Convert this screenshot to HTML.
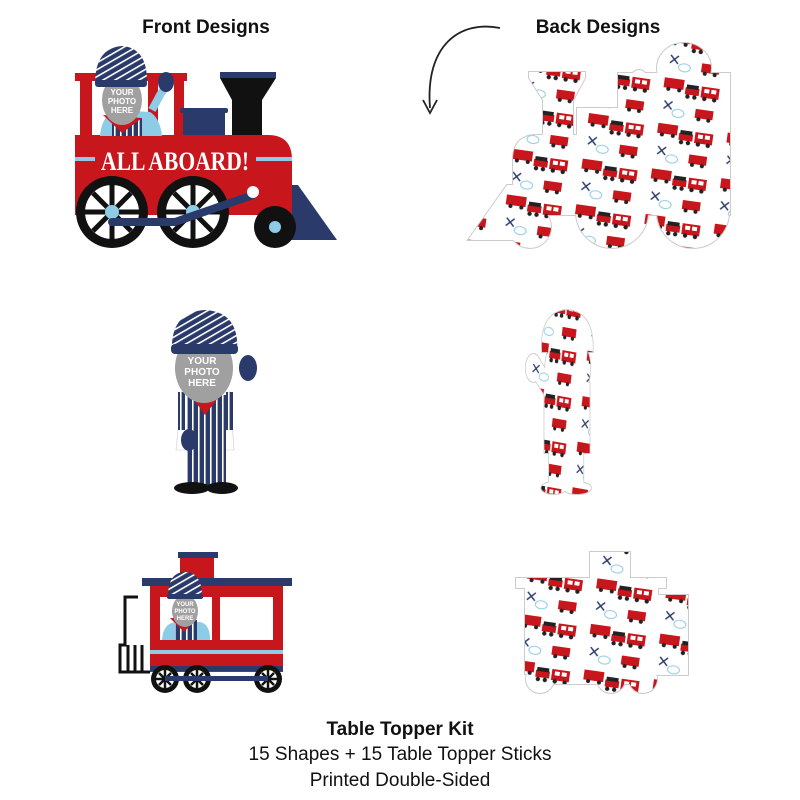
<!DOCTYPE html>
<html><head><meta charset="utf-8"><style>
html,body{margin:0;padding:0;background:#fff;width:800px;height:800px;overflow:hidden}
svg{display:block}
text{font-family:"Liberation Sans",sans-serif}
</style></head><body>
<svg width="800" height="800" viewBox="0 0 800 800" xmlns="http://www.w3.org/2000/svg">
<defs>
<pattern id="tp" width="70" height="46" patternUnits="userSpaceOnUse" patternTransform="rotate(-8)">
<rect width="70" height="46" fill="#fff"/>
<rect x="2" y="8" width="18" height="11" fill="#c8161d"/>
<rect x="5" y="10" width="5" height="4" fill="#fff"/>
<rect x="12" y="10" width="5" height="4" fill="#fff"/>
<rect x="22" y="11" width="14" height="7" fill="#c8161d"/>
<rect x="23" y="8" width="12" height="4" fill="#222"/>
<circle cx="6" cy="20" r="2.2" fill="#222"/><circle cx="16" cy="20" r="2.2" fill="#222"/>
<circle cx="26" cy="20" r="2.2" fill="#222"/><circle cx="33" cy="20" r="2.2" fill="#222"/>
<path d="M47 27l8 8M55 27l-8 8" stroke="#2a3a6a" stroke-width="1.5"/>
<ellipse cx="40" cy="38" rx="6" ry="4" fill="none" stroke="#8ecbe6" stroke-width="1"/>
<rect x="38" y="4" width="20" height="10" fill="#c8161d"/>
<circle cx="42" cy="15" r="2" fill="#222"/><circle cx="53" cy="15" r="2" fill="#222"/>
<rect x="5" y="31" width="18" height="9" fill="#c8161d"/>
<circle cx="9" cy="41" r="2" fill="#222"/><circle cx="19" cy="41" r="2" fill="#222"/>
</pattern>
<pattern id="stripe" width="6" height="6" patternUnits="userSpaceOnUse">
<rect width="6" height="6" fill="#2a3a6a"/><rect x="0" width="1.6" height="6" fill="#fff"/>
</pattern>
<pattern id="hatp" width="6" height="6" patternUnits="userSpaceOnUse" patternTransform="rotate(-30)">
<rect width="6" height="6" fill="#2a3a6a"/><rect width="6" height="1.6" fill="#fff"/>
</pattern>
<g id="locoS">
<rect x="75" y="73" width="112" height="64"/>
<ellipse cx="121" cy="68" rx="27" ry="25"/>
<ellipse cx="166" cy="84" rx="10" ry="14"/>
<polygon points="220,72 276,72 276,78 262,100 262,136 232,136 232,100 220,78"/>
<rect x="180" y="108" width="48" height="30"/>
<path d="M75 135 H268 Q292 135 292 160 V215 H75 Z"/>
<polygon points="288,185 298,185 337,240 288,240"/>
<circle cx="112" cy="212" r="36"/><circle cx="193" cy="212" r="36"/><circle cx="275" cy="227" r="21"/>
</g>
<g id="personS">
<path d="M172 352 Q170 312 205 310 Q240 312 237 352 Z"/>
<ellipse cx="204" cy="368" rx="29" ry="35"/>
<rect x="176" y="383" width="58" height="70"/>
<rect x="184" y="440" width="44" height="45"/>
<ellipse cx="192" cy="488" rx="18" ry="6"/><ellipse cx="222" cy="488" rx="16" ry="6"/>
<polygon points="216,390 240,360 252,372 230,400"/>
<ellipse cx="248" cy="368" rx="10" ry="14"/>
</g>
<g id="cabS">
<rect x="178" y="552" width="40" height="30"/>
<rect x="142" y="578" width="150" height="10"/>
<rect x="120" y="595" width="32" height="80"/>
<rect x="150" y="586" width="133" height="88"/>
<circle cx="165" cy="679" r="14"/><circle cx="197" cy="679" r="14"/><circle cx="268" cy="679" r="14"/>
<rect x="165" y="672" width="103" height="12"/>
</g>
</defs>

<text x="206" y="33" font-size="19" font-weight="bold" text-anchor="middle" fill="#111">Front Designs</text>
<text x="598" y="33" font-size="19" font-weight="bold" text-anchor="middle" fill="#111">Back Designs</text>
<path d="M500 28 C460 20 425 45 430 108" fill="none" stroke="#222" stroke-width="1.8"/>
<path d="M423 100 L430 113 L437 100" fill="none" stroke="#222" stroke-width="1.8"/>

<!-- FRONT LOCOMOTIVE -->
<g>
<polygon points="288,185 298,185 337,240 288,240" fill="#2a3a6a"/>
<rect x="75" y="73" width="112" height="8" fill="#c8161d"/>
<rect x="80" y="81" width="12" height="55" fill="#c8161d"/>
<rect x="148" y="81" width="10" height="55" fill="#c8161d"/>
<rect x="174" y="81" width="10" height="55" fill="#c8161d"/>
<rect x="220" y="72" width="56" height="6" fill="#2a3a6a"/>
<polygon points="220,78 276,78 262,100 262,136 232,136 232,100" fill="#111"/>
<rect x="183" y="108" width="42" height="28" fill="#2a3a6a"/>
<rect x="180" y="108" width="48" height="5" rx="2" fill="#2a3a6a"/>
<path d="M75 135 H268 Q292 135 292 160 V215 H75 Z" fill="#c8161d"/>
<rect x="75" y="157" width="20" height="4" fill="#8ecbe6"/>
<rect x="256" y="157" width="36" height="4" fill="#8ecbe6"/>
<text x="175" y="170" style="font-family:'Liberation Serif',serif;font-weight:bold" font-size="26" fill="#fff" text-anchor="middle" textLength="148" lengthAdjust="spacingAndGlyphs">ALL ABOARD!</text>
<path d="M100 136 Q102 112 120 110 L150 112 Q160 118 162 136 Z" fill="#8ecbe6"/>
<rect x="112" y="118" width="30" height="18" fill="url(#stripe)"/>
<polygon points="103,115 142,118 122,133" fill="#c8161d"/>
<path d="M152 110 L160 95 L166 86" stroke="#8ecbe6" stroke-width="8" fill="none"/>
<ellipse cx="166" cy="82" rx="8" ry="10" fill="#2a3a6a"/>
<ellipse cx="122" cy="100" rx="20" ry="25" fill="#a0a0a0"/>
<text x="122" y="95" font-size="8" fill="#fff" text-anchor="middle" font-weight="bold">YOUR</text>
<text x="122" y="104" font-size="8" fill="#fff" text-anchor="middle" font-weight="bold">PHOTO</text>
<text x="122" y="113" font-size="8" fill="#fff" text-anchor="middle" font-weight="bold">HERE</text>
<path d="M95 84 Q95 48 122 46 Q148 48 147 84 Z" fill="url(#hatp)"/>
<rect x="95" y="80" width="52" height="7" rx="3" fill="#2a3a6a"/>
<g id="bw"><circle cx="112" cy="212" r="36" fill="#111"/><circle cx="112" cy="212" r="27" fill="#fff"/>
<g stroke="#111" stroke-width="5"><line x1="112" y1="185" x2="112" y2="239"/><line x1="85" y1="212" x2="139" y2="212"/><line x1="93" y1="193" x2="131" y2="231"/><line x1="131" y1="193" x2="93" y2="231"/></g>
<circle cx="112" cy="212" r="7" fill="#8ecbe6"/></g>
<use href="#bw" x="81" y="0"/>
<circle cx="275" cy="227" r="21" fill="#111"/><circle cx="275" cy="227" r="6" fill="#8ecbe6"/>
<path d="M112 222 L175 222 L253 195" stroke="#2a3a6a" stroke-width="8" stroke-linecap="round" fill="none"/>
<circle cx="253" cy="192" r="6" fill="#fff"/>
</g>

<!-- BACK silhouettes -->
<g transform="translate(805,0) scale(-1,1)">
<use href="#locoS" fill="#ccc" stroke="#ccc" stroke-width="2"/>
<use href="#locoS" fill="url(#tp)"/>
</g>
<g transform="translate(567,0) scale(-0.78,1) translate(-205,0)">
<use href="#personS" fill="#ccc" stroke="#ccc" stroke-width="2"/>
<use href="#personS" fill="url(#tp)"/>
</g>
<g transform="translate(808,0) scale(-1,1)">
<use href="#cabS" fill="#ccc" stroke="#ccc" stroke-width="2"/>
<use href="#cabS" fill="url(#tp)"/>
</g>

<!-- FRONT ENGINEER -->
<g>
<path d="M182 390 Q178 385 190 383 L218 383 Q230 385 230 395 L234 450 L220 450 L220 470 L188 470 L188 450 L176 450 Z" fill="#fff" stroke="#ccc" stroke-width="0.6"/>
<path d="M222 392 L240 375" stroke="#fff" stroke-width="9"/>
<rect x="186" y="395" width="40" height="90" fill="url(#stripe)"/>
<rect x="178" y="392" width="7" height="38" fill="url(#stripe)"/>
<rect x="226" y="392" width="7" height="38" fill="url(#stripe)"/>
<polygon points="183,385 228,385 205,415" fill="#c8161d"/>
<ellipse cx="189" cy="440" rx="8" ry="11" fill="#2a3a6a"/>
<ellipse cx="248" cy="368" rx="9" ry="13" fill="#2a3a6a"/>
<ellipse cx="192" cy="488" rx="18" ry="6" fill="#111"/>
<ellipse cx="222" cy="488" rx="16" ry="6" fill="#111"/>
<ellipse cx="204" cy="368" rx="29" ry="35" fill="#a0a0a0"/>
<text x="202" y="364" font-size="10" fill="#fff" text-anchor="middle" font-weight="bold">YOUR</text>
<text x="202" y="375" font-size="10" fill="#fff" text-anchor="middle" font-weight="bold">PHOTO</text>
<text x="202" y="386" font-size="10" fill="#fff" text-anchor="middle" font-weight="bold">HERE</text>
<path d="M172 352 Q170 312 205 310 Q240 312 237 352 Z" fill="url(#hatp)"/>
<rect x="171" y="344" width="67" height="10" rx="4" fill="#2a3a6a"/>
</g>

<!-- FRONT CABOOSE -->
<g>
<rect x="178" y="552" width="40" height="6" fill="#2a3a6a"/>
<rect x="180" y="558" width="34" height="24" fill="#c8161d"/>
<rect x="142" y="578" width="150" height="8" fill="#2a3a6a"/>
<path d="M138 597 H125 V645 H120 V672 H150" fill="none" stroke="#111" stroke-width="3"/>
<g stroke="#111" stroke-width="3"><line x1="128" y1="645" x2="128" y2="672"/><line x1="135" y1="645" x2="135" y2="672"/><line x1="142" y1="645" x2="142" y2="672"/></g>
<rect x="150" y="586" width="133" height="86" fill="#c8161d"/>
<rect x="160" y="597" width="52" height="43" fill="#fff"/>
<rect x="220" y="597" width="53" height="43" fill="#fff"/>
<rect x="150" y="650" width="133" height="4" fill="#8ecbe6"/>
<rect x="150" y="666" width="133" height="5" fill="#2a3a6a"/>
<path d="M162 640 Q163 624 175 622 L200 622 Q210 624 210 640 Z" fill="#8ecbe6"/>
<rect x="175" y="620" width="22" height="20" fill="url(#stripe)"/>
<polygon points="170,618 197,618 184,632" fill="#c8161d"/>
<ellipse cx="185" cy="611" rx="13" ry="16" fill="#a0a0a0"/>
<text x="185" y="606" font-size="6" fill="#fff" text-anchor="middle" font-weight="bold">YOUR</text>
<text x="185" y="613" font-size="6" fill="#fff" text-anchor="middle" font-weight="bold">PHOTO</text>
<text x="185" y="620" font-size="6" fill="#fff" text-anchor="middle" font-weight="bold">HERE</text>
<path d="M168 597 Q168 572 185 572 Q202 572 202 597 Z" fill="url(#hatp)"/>
<rect x="167" y="594" width="36" height="5" rx="2" fill="#2a3a6a"/>
<g id="sw"><circle cx="165" cy="679" r="14" fill="#111"/><circle cx="165" cy="679" r="9" fill="#fff"/>
<g stroke="#111" stroke-width="2.5"><line x1="165" y1="670" x2="165" y2="688"/><line x1="156" y1="679" x2="174" y2="679"/><line x1="159" y1="673" x2="171" y2="685"/><line x1="171" y1="673" x2="159" y2="685"/></g></g>
<use href="#sw" x="32"/><use href="#sw" x="103"/>
<rect x="165" y="676" width="103" height="5" fill="#2a3a6a"/>
</g>

<text x="400" y="735" font-size="19" font-weight="bold" text-anchor="middle" fill="#111">Table Topper Kit</text>
<text x="400" y="760" font-size="19" text-anchor="middle" fill="#111">15 Shapes + 15 Table Topper Sticks</text>
<text x="400" y="786" font-size="19" text-anchor="middle" fill="#111">Printed Double-Sided</text>
</svg>
</body></html>
